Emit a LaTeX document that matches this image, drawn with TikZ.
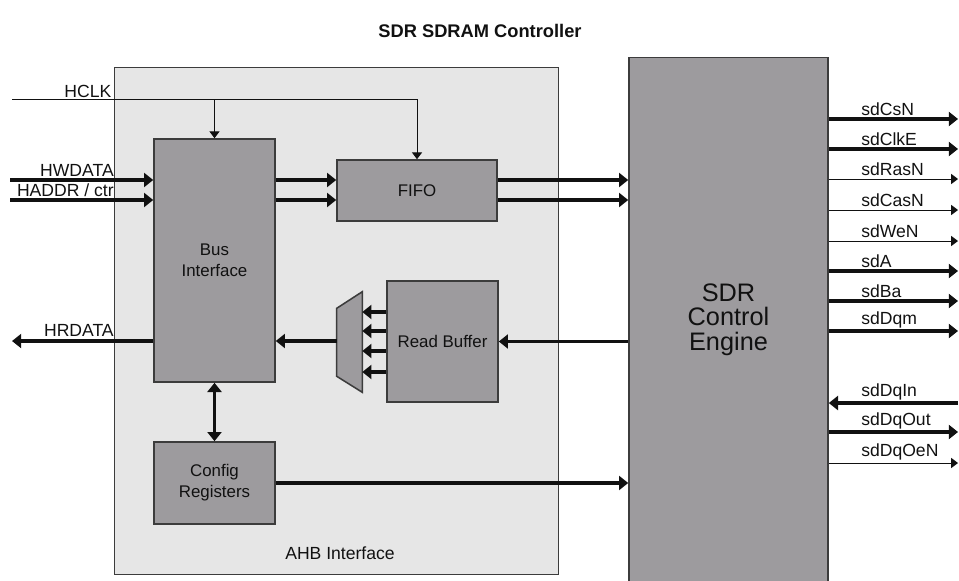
\documentclass[tikz,border=0pt]{standalone}
\usepackage{fontspec}
\setmainfont{Liberation Sans}
\usepackage{tikz}
\usetikzlibrary{positioning, arrows.meta, calc}
\definecolor{ink}{HTML}{111111}
\definecolor{edge}{HTML}{3C3C3C}
\definecolor{blockgray}{HTML}{9D9B9E}
\definecolor{areagray}{HTML}{E6E6E6}
\tikzset{
  area/.style={draw=edge, line width=0.7pt, fill=areagray, inner sep=0pt},
  blk/.style={draw=edge, line width=1.1pt, fill=blockgray, text=ink, align=center,
    font=\fontsize{12}{15}\selectfont, inner sep=0pt},
  eng/.style={blk, font=\fontsize{18}{17.5}\selectfont},
  bus/.style={-{Triangle[length=2.3mm, width=3.5mm]}, line width=2.6pt, color=ink},
  busback/.style={{Triangle[length=2.3mm, width=3.5mm]}-, line width=2.6pt, color=ink},
  busboth/.style={{Triangle[length=2.3mm, width=3.5mm]}-{Triangle[length=2.3mm, width=3.5mm]}, line width=2.6pt, color=ink},
  sig/.style={-{Triangle[length=1.7mm, width=2.5mm]}, line width=0.7pt, color=ink},
  wire/.style={line width=0.7pt, color=ink},
  lbl/.style={font=\fontsize{12.5}{14}\selectfont, text=ink, inner sep=1pt},
}

\begin{document}
\begin{tikzpicture}[x=0.025cm, y=-0.025cm]
  \useasboundingbox (0,0) rectangle (959,580);
  \node[font=\fontsize{13}{15}\selectfont\bfseries, text=ink] (title) at (480,31) {SDR SDRAM Controller};
  \node[area, minimum width=11.075cm, minimum height=12.65cm] (ahb) at (336.5,321) {};
  \node[lbl] (ahblbl) at (340,553) {AHB Interface};
  \node[eng, minimum width=4.975cm, minimum height=13.1cm] (engine) at (728.5,319.5) {SDR\\Control\\Engine};
  \node[blk, minimum width=3.025cm, minimum height=6.075cm] (busif) at (214.5,260.5) {Bus\\Interface};
  \node[blk, minimum width=4cm, minimum height=1.525cm] (fifo) at (417,190.5) {FIFO};
  \node[blk, minimum width=2.775cm, minimum height=3.025cm] (rbuf) at (442.5,341.5) {Read Buffer};
  \node[blk, minimum width=3.025cm, minimum height=2.05cm] (cfg) at (214.5,483) {Config\\Registers};
  \node[inner sep=0pt, minimum width=0.625cm, minimum height=2.5cm] (mux) at (349.5,342) {};
  \draw[draw=edge, line width=1.1pt, fill=blockgray]
    (mux.south west) ++(0,-16) -- ++(0,-68) -- (mux.north east) -- (mux.south east) -- cycle;

  \coordinate (hclk) at (12,99);
  \draw[wire] (hclk) -- (fifo.north |- hclk);
  \draw[sig] (fifo.north |- hclk) -- (fifo.north);
  \draw[sig] (busif.north |- hclk) -- (busif.north);
  \node[lbl, anchor=south east] (hclklbl) at (113,99) {HCLK};

  \coordinate (hwd) at (10,180);
  \coordinate (had) at (10,200);
  \coordinate (hrd) at (12,341);
  \draw[bus] (hwd) -- (busif.west |- hwd);
  \draw[bus] (had) -- (busif.west |- had);
  \draw[bus] (busif.west |- hrd) -- (hrd);
  \node[lbl, anchor=south east, inner sep=0pt] (hwdlbl) at (114,177) {HWDATA};
  \node[lbl, anchor=south east, inner sep=0pt] (hadlbl) at (114,197) {HADDR / ctr};
  \node[lbl, anchor=south east, inner sep=0pt] (hrdlbl) at (114,337) {HRDATA};

  \draw[bus] (busif.east |- hwd) -- (fifo.west |- hwd);
  \draw[bus] (busif.east |- had) -- (fifo.west |- had);
  \draw[bus] (fifo.east |- hwd) -- (engine.west |- hwd);
  \draw[bus] (fifo.east |- had) -- (engine.west |- had);
  \draw[bus] (engine.west |- rbuf.east) -- (rbuf.east);
  \foreach \y in {312,331,351,372}
    \draw[bus] (rbuf.west |- 0,\y) -- (mux.east |- 0,\y);
  \draw[bus] (mux.west |- hrd) -- (busif.east |- hrd);
  \draw[busboth] (busif.south) -- (cfg.north);
  \draw[bus] (cfg.east) -- (engine.west |- cfg.east);

  \foreach \name/\y/\kind [count=\i] in {sdCsN/119/bus, sdClkE/149/bus, sdRasN/179/sig, sdCasN/210/sig,
      sdWeN/241/sig, sdA/271/bus, sdBa/301/bus, sdDqm/331/bus, sdDqOut/432/bus, sdDqOeN/463/sig} {
    \coordinate (out\i) at (958,\y);
    \draw[\kind] (engine.east |- out\i) -- (out\i);
    \node[lbl, anchor=south west, inner sep=0pt] (outlbl\i) at (861,\y-3) {\name};
  }
  \coordinate (dqin) at (958,403);
  \draw[busback] (engine.east |- dqin) -- (dqin);
  \node[lbl, anchor=south west, inner sep=0pt] (dqinlbl) at (861,400) {sdDqIn};
\end{tikzpicture}
\end{document}
